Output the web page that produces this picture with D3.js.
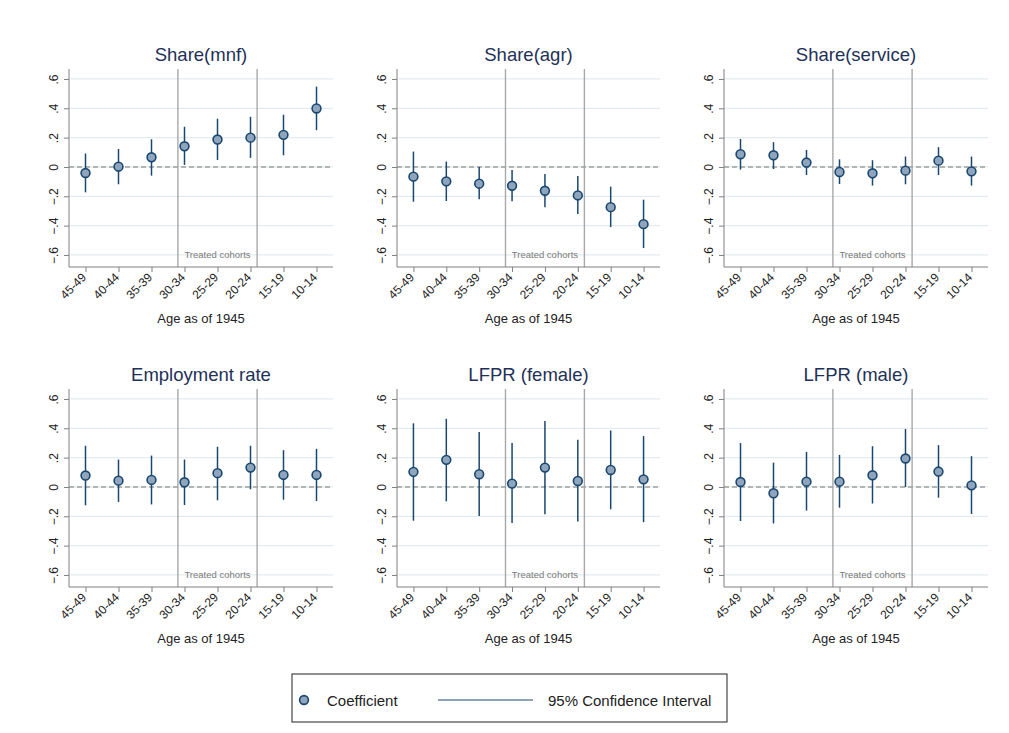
<!DOCTYPE html>
<html>
<head>
<meta charset="utf-8">
<script src="https://cdn.jsdelivr.net/npm/d3@7"></script>
<style>
  body { margin: 0; background: #fff; }
  svg { font-family: "Liberation Sans", Arial, sans-serif; }
</style>
</head>
<body>
<div id="chart"></div>
<script>
const ageGroups = ["45-49", "40-44", "35-39", "30-34", "25-29", "20-24", "15-19", "10-14"];
const ageMid = [47, 42, 37, 32, 27, 22, 17, 12];
const treatedLines = [33, 21];
const yTicks = [-0.6, -0.4, -0.2, 0, 0.2, 0.4, 0.6];
const titles = ["Share(mnf)", "Share(agr)", "Share(service)", "Employment rate", "LFPR (female)", "LFPR (male)"];

const mnfCoef = [-0.041, 0.002, 0.066, 0.141, 0.187, 0.200, 0.219, 0.399];
const mnfLo   = [-0.173, -0.118, -0.059, 0.014, 0.048, 0.062, 0.080, 0.251];
const mnfHi   = [0.092, 0.123, 0.189, 0.274, 0.329, 0.342, 0.356, 0.548];

const agrCoef = [-0.066, -0.098, -0.114, -0.128, -0.162, -0.194, -0.274, -0.390];
const agrLo   = [-0.237, -0.232, -0.220, -0.234, -0.275, -0.320, -0.410, -0.553];
const agrHi   = [0.105, 0.037, 0.000, -0.020, -0.048, -0.062, -0.134, -0.223];

const serCoef = [0.087, 0.080, 0.030, -0.034, -0.043, -0.025, 0.043, -0.030];
const serLo   = [-0.018, -0.014, -0.055, -0.116, -0.127, -0.118, -0.055, -0.127];
const serHi   = [0.191, 0.169, 0.116, 0.052, 0.046, 0.071, 0.135, 0.071];

const empCoef = [0.078, 0.043, 0.048, 0.032, 0.094, 0.132, 0.082, 0.082];
const empLo   = [-0.125, -0.102, -0.119, -0.123, -0.091, -0.016, -0.087, -0.096];
const empHi   = [0.281, 0.187, 0.214, 0.187, 0.274, 0.281, 0.251, 0.260];

const femCoef = [0.103, 0.185, 0.087, 0.023, 0.132, 0.041, 0.116, 0.052];
const femLo   = [-0.230, -0.098, -0.198, -0.246, -0.186, -0.235, -0.152, -0.240];
const femHi   = [0.434, 0.465, 0.374, 0.299, 0.449, 0.322, 0.385, 0.347];

const malCoef = [0.034, -0.043, 0.036, 0.036, 0.080, 0.194, 0.105, 0.011];
const malLo   = [-0.232, -0.249, -0.161, -0.141, -0.113, 0.000, -0.073, -0.184];
const malHi   = [0.299, 0.166, 0.239, 0.219, 0.278, 0.395, 0.285, 0.210];

const panels = [
  [mnfCoef, mnfLo, mnfHi], [agrCoef, agrLo, agrHi], [serCoef, serLo, serHi],
  [empCoef, empLo, empHi], [femCoef, femLo, femHi], [malCoef, malLo, malHi]
].map((p, i) => ({
  title: titles[i],
  rows: ageGroups.map((g, j) => ({ g, coef: p[0][j], lo: p[1][j], hi: p[2][j] }))
}));

const W = 1009, H = 733;
const navy = "#1a476f", fillC = "#8ea5bd", gridC = "#e3ecef", axisC = "#808080";

const colX = [[69, 333], [397, 660], [724, 988]];
const rowY = [[69, 267], [389, 587]];

const svg = d3.select("#chart").append("svg")
  .attr("width", W).attr("height", H);

panels.forEach((p, i) => {
  const [x0, x1] = colX[i % 3];
  const [y0, y1] = rowY[Math.floor(i / 3)];

  const x = d3.scalePoint().domain(ageGroups).range([x0, x1]).padding(0.5);
  const xAge = d3.scaleLinear().domain([ageMid[0], ageMid[7]]).range([x(ageGroups[0]), x(ageGroups[7])]);
  const y = d3.scaleLinear().domain([-0.682, 0.668]).range([y1, y0]);

  const g = svg.append("g");

  // grid
  g.selectAll(".grid").data(yTicks).join("line")
    .attr("x1", x0).attr("x2", x1)
    .attr("y1", d => y(d)).attr("y2", d => y(d))
    .attr("stroke", gridC).attr("stroke-width", 1.3);

  // treated cohort lines
  g.selectAll(".tl").data(treatedLines).join("line")
    .attr("x1", d => xAge(d)).attr("x2", d => xAge(d))
    .attr("y1", y0).attr("y2", y1)
    .attr("stroke", "#a8a8a8").attr("stroke-width", 1.4);

  g.append("text")
    .text("Treated cohorts")
    .attr("x", (xAge(treatedLines[0]) + xAge(treatedLines[1])) / 2)
    .attr("y", y(-0.6) + 3.5)
    .attr("text-anchor", "middle")
    .attr("fill", "#7a7a7a").style("font-size", "9.5px");

  // zero line
  g.append("line")
    .attr("x1", x0).attr("x2", x1)
    .attr("y1", y(0)).attr("y2", y(0))
    .attr("stroke", "#a0a0a0").attr("stroke-width", 1.4)
    .attr("stroke-dasharray", "5 3");

  // axes
  const yAxis = d3.axisLeft(y).tickValues(yTicks).tickSize(5).tickPadding(4)
    .tickFormat(d => d === 0 ? "0" : d3.format(".1f")(d).replace("0.", "."));
  const ya = g.append("g").attr("transform", `translate(${x0},0)`).call(yAxis);
  ya.select(".domain").attr("stroke", axisC).attr("d", `M0,${y0}V${y1}`);
  ya.selectAll(".tick line").attr("stroke", axisC);
  ya.selectAll(".tick text")
    .attr("transform", "rotate(-90)")
    .attr("x", 0).attr("y", -11)
    .attr("dy", "0")
    .attr("text-anchor", "middle")
    .attr("fill", "#222").style("font-size", "12px");

  const xAxis = d3.axisBottom(x).tickSize(5).tickPadding(3);
  const xa = g.append("g").attr("transform", `translate(0,${y1})`).call(xAxis);
  xa.select(".domain").attr("stroke", axisC).attr("d", `M${x0},0H${x1}`);
  xa.selectAll(".tick line").attr("stroke", axisC);
  xa.selectAll(".tick text")
    .attr("transform", "translate(-2,8) rotate(-45)")
    .attr("x", 0).attr("y", 0).attr("dy", "0.35em")
    .attr("text-anchor", "end")
    .attr("fill", "#222").style("font-size", "12px");

  g.append("text")
    .text("Age as of 1945")
    .attr("x", (x0 + x1) / 2).attr("y", y1 + 56)
    .attr("text-anchor", "middle")
    .attr("fill", "#222").style("font-size", "13px");

  g.append("text")
    .text(p.title)
    .attr("x", (x0 + x1) / 2).attr("y", y0 - 8)
    .attr("text-anchor", "middle")
    .attr("fill", "#1e3158").style("font-size", "18.5px");

  // CIs and points
  g.selectAll(".ci").data(p.rows).join("line")
    .attr("x1", d => x(d.g)).attr("x2", d => x(d.g))
    .attr("y1", d => y(d.lo)).attr("y2", d => y(d.hi))
    .attr("stroke", navy).attr("stroke-width", 1.5);

  g.selectAll(".pt").data(p.rows).join("circle")
    .attr("cx", d => x(d.g)).attr("cy", d => y(d.coef))
    .attr("r", 4.4)
    .attr("fill", fillC).attr("stroke", navy).attr("stroke-width", 1.6);
});

// legend
const lg = svg.append("g");
lg.append("rect")
  .attr("x", 292).attr("y", 674).attr("width", 435).attr("height", 48)
  .attr("fill", "#fff").attr("stroke", "#222").attr("stroke-width", 1);
lg.append("circle")
  .attr("cx", 304).attr("cy", 700).attr("r", 4.4)
  .attr("fill", fillC).attr("stroke", navy).attr("stroke-width", 1.6);
lg.append("text").text("Coefficient")
  .attr("x", 327).attr("y", 705.5).attr("fill", "#222").style("font-size", "15px");
lg.append("line")
  .attr("x1", 438).attr("x2", 533).attr("y1", 700).attr("y2", 700)
  .attr("stroke", navy).attr("stroke-width", 1.2);
lg.append("text").text("95% Confidence Interval")
  .attr("x", 548).attr("y", 705.5).attr("fill", "#222").style("font-size", "15px");
</script>
</body>
</html>
